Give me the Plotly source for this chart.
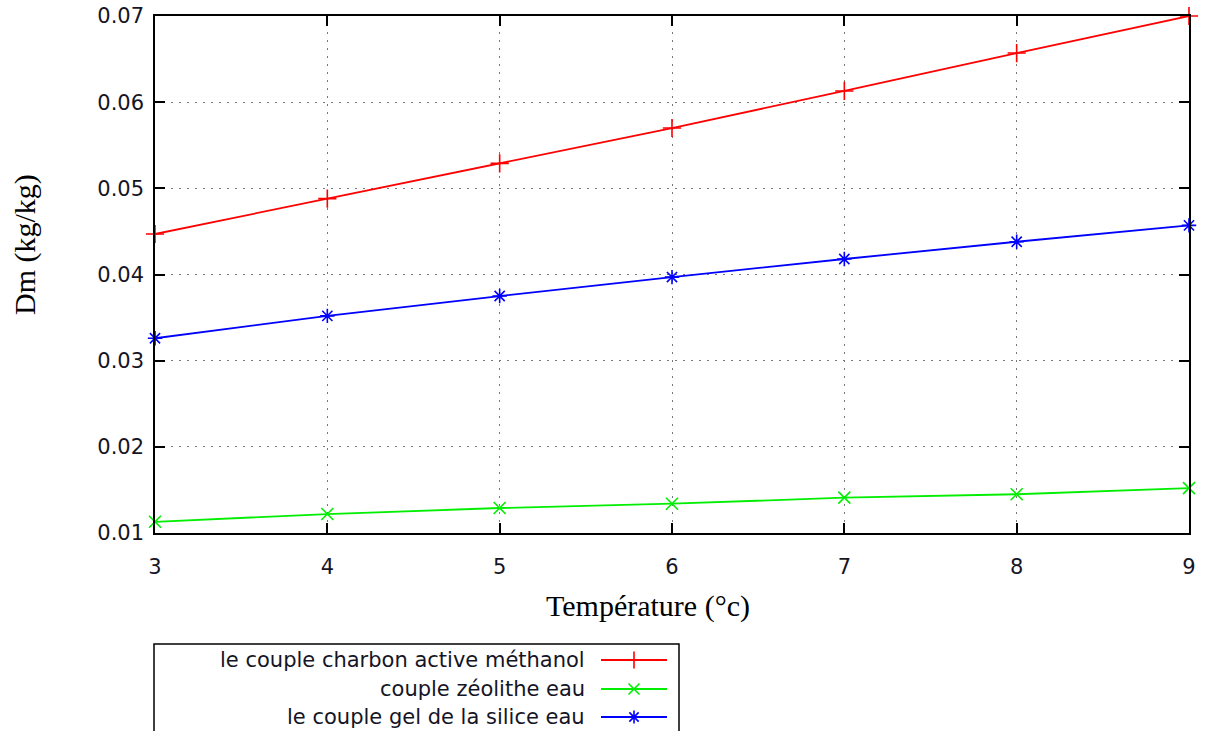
import plotly.graph_objects as go

W, H = 1206, 731

temperature = [3, 4, 5, 6, 7, 8, 9]
charbon_methanol = [0.0447, 0.0488, 0.0529, 0.0570, 0.0613, 0.0657, 0.0700]
zeolithe_eau = [0.0113, 0.0122, 0.0129, 0.0134, 0.0141, 0.0145, 0.0152]
silice_eau = [0.0326, 0.0352, 0.0375, 0.0397, 0.0418, 0.0438, 0.0457]

series_names = [
    "le couple charbon active méthanol",
    "couple zéolithe eau",
    "le couple gel de la silice eau",
]
series_values = [charbon_methanol, zeolithe_eau, silice_eau]
series_colors = ["#ff0000", "#00ee00", "#0000ff"]
series_symbols = ["cross-thin", "x-thin", "asterisk"]
series_sizes = [13, 12, 12]

x_ticks = [3, 4, 5, 6, 7, 8, 9]
y_ticks = [0.01, 0.02, 0.03, 0.04, 0.05, 0.06, 0.07]
y_tick_text = ["0.01", "0.02", "0.03", "0.04", "0.05", "0.06", "0.07"]

# plot frame in pixels
PL, PR, PT, PB = 155, 1189, 16, 533
# legend frame in pixels
LL, LR, LT = 154, 679, 644
legend_rows = [660, 689, 717]
sample_x = [601, 667]

fig = go.Figure()

for name, vals, col, sym, sz in zip(series_names, series_values, series_colors,
                                    series_symbols, series_sizes):
    fig.add_trace(go.Scatter(
        x=temperature, y=vals, name=name, mode="lines+markers",
        line=dict(color=col, width=1.8),
        marker=dict(symbol=sym, size=sz, color=col,
                    line=dict(color=col, width=1.6)),
        cliponaxis=False, showlegend=False,
    ))

# key samples (line with a marker in the middle)
for row, col, sym, sz in zip(legend_rows, series_colors, series_symbols, series_sizes):
    fig.add_trace(go.Scatter(
        x=sample_x, y=[row, row], mode="lines",
        line=dict(color=col, width=1.8), xaxis="x2", yaxis="y2",
        showlegend=False, hoverinfo="skip",
    ))
    fig.add_trace(go.Scatter(
        x=[sum(sample_x) / 2], y=[row], mode="markers",
        marker=dict(symbol=sym, size=sz - 1, color=col, line=dict(color=col, width=1.6)),
        xaxis="x2", yaxis="y2", showlegend=False, hoverinfo="skip",
    ))

tick_font = dict(family="DejaVu Sans", size=21, color="#151525")
title_font = dict(family="Liberation Serif", size=30, color="#000000")

fig.update_layout(
    width=W, height=H,
    margin=dict(l=0, r=0, t=0, b=0),
    paper_bgcolor="white", plot_bgcolor="white",
    xaxis=dict(
        domain=[PL / W, PR / W], range=[3, 9],
        tickvals=x_ticks, ticktext=[str(v) for v in x_ticks],
        ticks="inside", ticklen=10, tickwidth=1.5, tickcolor="#000",
        mirror="allticks", showline=True, linecolor="#000", linewidth=1.5,
        showgrid=True, gridcolor="#777", gridwidth=1, griddash="2px,6px",
        zeroline=False, tickfont=tick_font, ticklabelstandoff=14,
        automargin=False,
    ),
    yaxis=dict(
        domain=[(H - PB) / H, (H - PT) / H], range=[0.01, 0.07],
        tickvals=y_ticks, ticktext=y_tick_text,
        ticks="inside", ticklen=10, tickwidth=1.5, tickcolor="#000",
        mirror="allticks", showline=True, linecolor="#000", linewidth=1.5,
        showgrid=True, gridcolor="#777", gridwidth=1, griddash="2px,6px",
        zeroline=False, tickfont=tick_font, ticklabelstandoff=5,
        automargin=False,
    ),
    xaxis2=dict(domain=[LL / W, LR / W], range=[LL, LR], visible=False,
                anchor="y2", fixedrange=True),
    yaxis2=dict(domain=[0, (H - LT) / H], range=[H, LT], visible=False,
                anchor="x2", fixedrange=True),
    shapes=[
        dict(type="rect", xref="paper", yref="paper",
             x0=LL / W, x1=LR / W, y0=-0.05, y1=(H - LT) / H,
             line=dict(color="#000", width=1.5), fillcolor="rgba(0,0,0,0)"),
    ],
    annotations=[
        dict(text="Température (°c)", xref="paper", yref="paper",
             x=648 / W, y=(H - 606) / H, showarrow=False,
             xanchor="center", yanchor="middle", font=title_font),
        dict(text="Dm (kg/kg)", xref="paper", yref="paper",
             x=25 / W, y=(H - 245) / H, showarrow=False, textangle=-90,
             xanchor="center", yanchor="middle", font=title_font),
    ] + [
        dict(text=name, xref="paper", yref="paper", x=587 / W, y=(H - row) / H,
             showarrow=False, xanchor="right", yanchor="middle",
             font=dict(family="DejaVu Sans", size=21, color="#151525"))
        for name, row in zip(series_names, legend_rows)
    ],
)

fig.write_html("out.html")
